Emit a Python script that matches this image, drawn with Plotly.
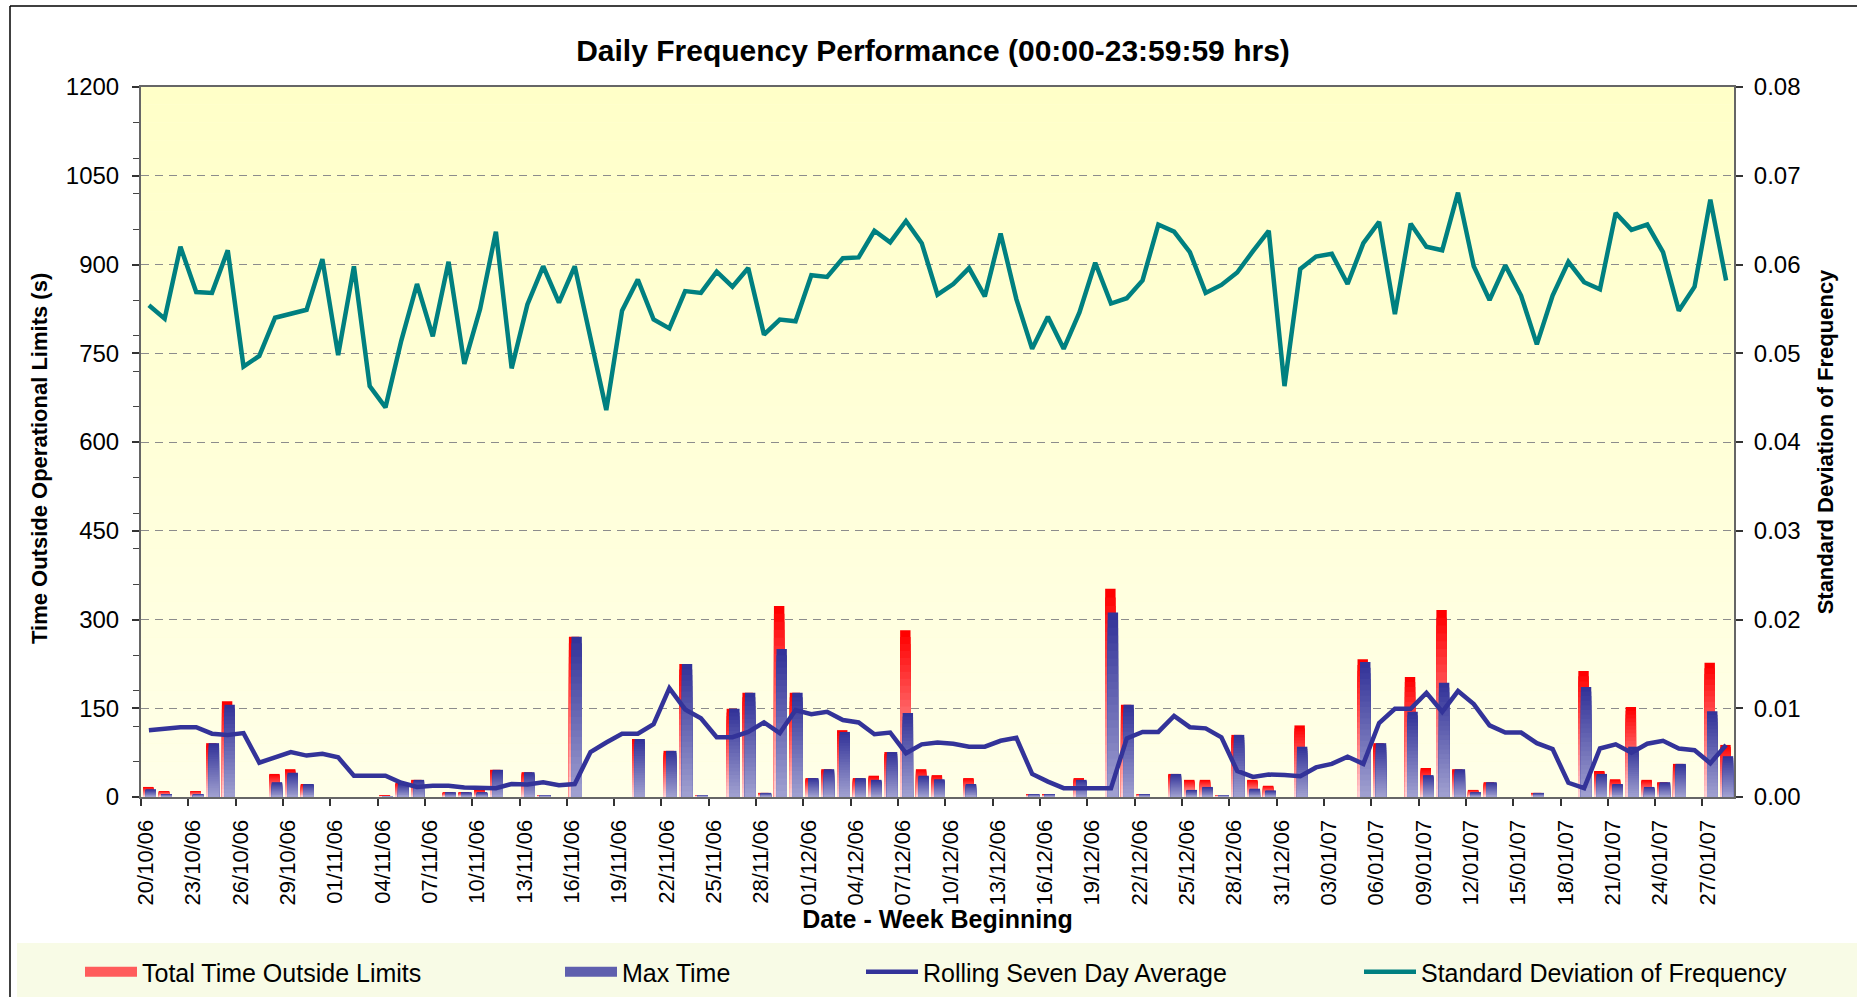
import plotly.graph_objects as go
from datetime import date, timedelta

# ---------------- data ----------------
start_day = date(2006, 10, 20)
n_days = 101
dates = [(start_day + timedelta(days=i)).strftime("%d/%m/%y") for i in range(n_days)]

tick_labels = ["20/10/06", "23/10/06", "26/10/06", "29/10/06", "01/11/06", "04/11/06",
               "07/11/06", "10/11/06", "13/11/06", "16/11/06", "19/11/06", "22/11/06",
               "25/11/06", "28/11/06", "01/12/06", "04/12/06", "07/12/06", "10/12/06",
               "13/12/06", "16/12/06", "19/12/06", "22/12/06", "25/12/06", "28/12/06",
               "31/12/06", "03/01/07", "06/01/07", "09/01/07", "12/01/07", "15/01/07",
               "18/01/07", "21/01/07", "24/01/07", "27/01/07"]

total_time = [17, 10, 0, 10, 91, 162, 0, 0, 39, 47,
              22, 0, 0, 0, 0, 2, 24, 29, 0, 8,
              8, 12, 46, 0, 42, 3, 0, 271, 0, 0,
              0, 98, 0, 78, 225, 3, 0, 149, 176, 7,
              323, 176, 32, 47, 113, 32, 36, 76, 282, 47,
              37, 0, 32, 0, 0, 0, 5, 5, 0, 32,
              0, 352, 156, 5, 0, 39, 29, 29, 3, 105,
              29, 19, 0, 121, 0, 0, 0, 233, 91, 0,
              203, 49, 316, 47, 12, 25, 0, 0, 7, 0,
              0, 213, 44, 30, 152, 29, 25, 56, 0, 227,
              88]

max_time = [13, 5, 0, 5, 91, 156, 0, 0, 25, 41,
            22, 0, 0, 0, 0, 1, 22, 29, 0, 8,
            8, 8, 46, 0, 42, 3, 0, 271, 0, 0,
            0, 98, 0, 78, 225, 3, 0, 149, 176, 7,
            250, 176, 32, 47, 110, 32, 29, 76, 142, 36,
            30, 0, 22, 0, 0, 0, 5, 5, 0, 29,
            0, 312, 156, 5, 0, 39, 12, 17, 3, 105,
            14, 11, 0, 85, 0, 0, 0, 228, 91, 0,
            144, 37, 193, 47, 8, 25, 0, 0, 7, 0,
            0, 186, 39, 22, 85, 17, 25, 56, 0, 145,
            69]

rolling_avg = [113, 116, 118, 118, 107, 105, 108, 58, 68, 76,
               70, 73, 67, 36, 36, 36, 24, 17, 19, 19,
               16, 15, 15, 22, 21, 25, 20, 22, 76, 92,
               107, 107, 123, 184, 148, 133, 101, 101, 110, 126,
               108, 147, 140, 144, 130, 126, 106, 109, 74, 89,
               92, 90, 85, 85, 95, 100, 39, 26, 15, 15,
               15, 15, 99, 110, 110, 137, 118, 116, 101, 44,
               34, 38, 37, 35, 50, 56, 68, 56, 125, 149,
               149, 176, 144, 179, 157, 121, 109, 109, 91, 81,
               24, 15, 82, 89, 75, 90, 95, 82, 79, 57,
               88]

std_dev = [0.0554, 0.0539, 0.0620, 0.0569, 0.0568, 0.0616, 0.0485, 0.0497, 0.0540, 0.0544,
           0.0549, 0.0606, 0.0498, 0.0598, 0.0463, 0.0439, 0.0514, 0.0578, 0.0519, 0.0603,
           0.0488, 0.0550, 0.0637, 0.0483, 0.0555, 0.0598, 0.0557, 0.0598, 0.0517, 0.0436,
           0.0548, 0.0583, 0.0538, 0.0528, 0.0570, 0.0568, 0.0592, 0.0575, 0.0596, 0.0521,
           0.0538, 0.0536, 0.0588, 0.0586, 0.0607, 0.0608, 0.0638, 0.0625, 0.0649, 0.0624,
           0.0566, 0.0578, 0.0596, 0.0564, 0.0635, 0.0561, 0.0505, 0.0541, 0.0505, 0.0546,
           0.0602, 0.0556, 0.0562, 0.0582, 0.0645, 0.0637, 0.0614, 0.0568, 0.0577, 0.0591,
           0.0615, 0.0638, 0.0463, 0.0595, 0.0609, 0.0612, 0.0578, 0.0624, 0.0648, 0.0544,
           0.0646, 0.0620, 0.0616, 0.0681, 0.0598, 0.0560, 0.0599, 0.0565, 0.0510, 0.0565,
           0.0603, 0.0580, 0.0572, 0.0658, 0.0639, 0.0645, 0.0614, 0.0548, 0.0575, 0.0673,
           0.0582]

# ---------------- styling helpers ----------------
FONT = "Liberation Sans, Arial, Helvetica, sans-serif"


def mix(c1, c2, t):
    a = [int(c1[i:i + 2], 16) for i in (1, 3, 5)]
    b = [int(c2[i:i + 2], 16) for i in (1, 3, 5)]
    return "#" + "".join("%02x" % round(a[i] + (b[i] - a[i]) * t) for i in range(3))


x_idx = list(range(len(dates)))
tick_pos = [i - 0.5 for i in range(0, len(dates), 3)][:len(tick_labels)]

fig = go.Figure()

# gradient bars: nested bars from full height (darkest) down to lightest
K = 24
BAR_W = 0.66
for top_c, bot_c, vals, off in (("#ff0000", "#ffd8dc", total_time, -0.37),
                                ("#333399", "#a4a4d2", max_time, -0.21)):
    for j in range(K):
        frac = (K - j) / K
        col = mix(bot_c, top_c, frac)
        fig.add_trace(go.Bar(
            x=x_idx, y=[v * frac for v in vals], width=BAR_W, offset=off,
            marker=dict(color=col, line=dict(width=0)),
            showlegend=False, hoverinfo="skip", yaxis="y"))

fig.add_trace(go.Scatter(x=x_idx, y=rolling_avg, mode="lines", name="Rolling Seven Day Average",
                         line=dict(color="#333399", width=4.5), showlegend=False, yaxis="y"))
fig.add_trace(go.Scatter(x=x_idx, y=std_dev, mode="lines", name="Standard Deviation of Frequency",
                         line=dict(color="#008080", width=4.5), showlegend=False, yaxis="y2"))

# legend entries (one legend each so they sit where the original puts them)
legend_items = [("Total Time Outside Limits", "#ff5c5c", 15, "legend"),
                ("Max Time", "#5f5fae", 15, "legend2"),
                ("Rolling Seven Day Average", "#333399", 4.5, "legend3"),
                ("Standard Deviation of Frequency", "#008080", 4.5, "legend4")]
for name, col, w, lg in legend_items:
    fig.add_trace(go.Scatter(x=[None], y=[None], mode="lines", name=name,
                             line=dict(color=col, width=w), legend=lg, hoverinfo="skip"))

L, R, T, B = 141, 123, 87, 200
W, H = 1857, 997
PW, PH = W - L - R, H - T - B


def px_x(p):
    return (p - L) / PW


def px_y(p):
    return (H - B - p) / PH


# plot-area background gradient
NB = 40
shapes = []
for i in range(NB):
    shapes.append(dict(type="rect", xref="paper", yref="paper", x0=0, x1=1,
                       y0=i / NB, y1=(i + 1) / NB, layer="below", line=dict(width=0),
                       fillcolor=mix("#ffffe8", "#ffffc8", (i + 0.5) / NB)))
# legend band
shapes.append(dict(type="rect", xref="paper", yref="paper", x0=px_x(17), x1=px_x(1870),
                   y0=px_y(943), y1=px_y(1010), layer="below", line=dict(width=0),
                   fillcolor="#f8fbe6"))
# outer frame (left and top edges)
shapes.append(dict(type="line", xref="paper", yref="paper", x0=px_x(10), x1=px_x(10),
                   y0=px_y(6), y1=px_y(1010), line=dict(color="black", width=1.5)))
shapes.append(dict(type="line", xref="paper", yref="paper", x0=px_x(10), x1=px_x(1870),
                   y0=px_y(6), y1=px_y(6), line=dict(color="black", width=1.5)))

leg_common = dict(orientation="h", yanchor="middle", y=px_y(972), xanchor="left",
                  bgcolor="rgba(0,0,0,0)", borderwidth=0, itemwidth=52,
                  font=dict(family=FONT, size=25, color="black"))

fig.update_layout(
    width=W, height=H,
    margin=dict(l=L, r=R, t=T, b=B, autoexpand=False),
    paper_bgcolor="white", plot_bgcolor="#ffffd8",
    barmode="overlay",
    font=dict(family=FONT, color="black"),
    title=dict(text="<b>Daily Frequency Performance (00:00-23:59:59 hrs)</b>",
               x=933 / W, xanchor="center", xref="container",
               y=1 - 50 / H, yanchor="middle", yref="container",
               font=dict(family=FONT, size=30, color="black")),
    xaxis=dict(range=[-0.5, len(dates) - 0.5], tickmode="array", tickvals=tick_pos,
               ticktext=tick_labels, tickangle=-90, ticklabelshift=5, ticklabelstandoff=5,
               ticks="outside", ticklen=7, tickwidth=1.5, tickcolor="#333",
               tickfont=dict(family=FONT, size=22, color="black"),
               showline=True, linecolor="#666", linewidth=2, mirror=True,
               showgrid=False, zeroline=False,
               title=dict(text="<b>Date - Week Beginning</b>", standoff=4,
                          font=dict(family=FONT, size=25, color="black"))),
    yaxis=dict(range=[0, 1200], tickmode="linear", tick0=0, dtick=150,
               ticks="outside", ticklen=7, tickwidth=1.5, tickcolor="#333",
               ticklabelstandoff=8,
               minor=dict(tickmode="linear", tick0=0, dtick=60, ticks="outside", ticklen=6,
                          tickwidth=1.2, tickcolor="#444", showgrid=False),
               tickfont=dict(family=FONT, size=24, color="black"),
               showline=True, linecolor="#666", linewidth=2,
               showgrid=True, gridcolor="#8c8c8c", gridwidth=1.3, griddash="8px,6px",
               zeroline=False),
    yaxis2=dict(range=[0, 0.08], tickmode="linear", tick0=0, dtick=0.01, tickformat=".2f",
                overlaying="y", side="right", ticks="outside", ticklen=7, tickwidth=1.5,
                tickcolor="#333", ticklabelstandoff=6,
                tickfont=dict(family=FONT, size=24, color="black"),
                showline=True, linecolor="#666", linewidth=2, showgrid=False, zeroline=False,
                title=dict(text="<b>Standard Deviation of Frequency</b>", standoff=18,
                           font=dict(family=FONT, size=22, color="black"))),
    annotations=[dict(text="<b>Time Outside Operational Limits (s)</b>", textangle=-90,
                      xref="paper", yref="paper", x=px_x(39), y=px_y(459),
                      xanchor="center", yanchor="middle", showarrow=False,
                      font=dict(family=FONT, size=22, color="black"))],
    legend=dict(leg_common, x=px_x(80)),
    legend2=dict(leg_common, x=px_x(560)),
    legend3=dict(leg_common, x=px_x(861)),
    legend4=dict(leg_common, x=px_x(1359)),
    shapes=shapes,
    showlegend=True,
)

fig.write_html("out.html", config={"displayModeBar": False},
               post_script="document.body.style.margin='0px';")
